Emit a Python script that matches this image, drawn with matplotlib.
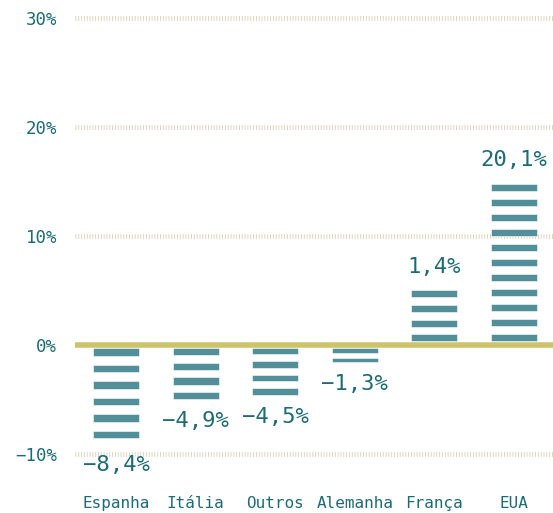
import matplotlib
matplotlib.use("Agg")
import matplotlib.pyplot as plt

# dados
paises = ["Espanha", "Itália", "Outros", "Alemanha", "França", "EUA"]
rotulos = ["−8,4%", "−4,9%", "−4,5%", "−1,3%", "1,4%", "20,1%"]
alturas = [-8.6, -5.0, -4.6, -1.6, 5.0, 14.8]   # altura visual das barras
faixas = [6, 4, 4, 2, 4, 11]                    # nº de listras por barra
yticks = [-10, 0, 10, 20, 30]
ytick_labels = ["−10%", "0%", "10%", "20%", "30%"]

cor_texto = "#1d6b75"
cor_barra = "#538f99"
cor_zero = "#cdc36a"
cor_grade = "#dccfb8"

plt.rcParams["font.family"] = ["DejaVu Sans Mono", "DejaVu Sans"]

fig = plt.figure(figsize=(5.53, 5.13), dpi=100)
ax = fig.add_axes([75 / 553, 1 - 475.5 / 513, 1 - 75 / 553, 468.5 / 513])

largura = 0.58
f = 0.48    # fração listra / período
borda = 0.3  # listras começam logo após a linha do zero
for i, (h, n) in enumerate(zip(alturas, faixas)):
    util = abs(h) - borda
    p = util / (n - 1 + f)
    s = p * f
    sinal = 1 if h > 0 else -1
    for k in range(n):
        base = sinal * (borda + k * p)
        ax.bar(i, sinal * s, bottom=base, width=largura, color=cor_barra,
               edgecolor="white", linewidth=0.4, zorder=2)

for i, (h, txt) in enumerate(zip(alturas, rotulos)):
    off = 17 if h > 0 else -16
    if i == 0:
        off = -19
    ax.annotate(txt, (i, h), xytext=(0, off), textcoords="offset points",
                ha="center", va="center", fontsize=16, color=cor_texto)

for y in yticks:
    if y != 0:
        ax.axhline(y, color=cor_grade, lw=3.5, ls=(0, (0.18, 0.4)), zorder=1)
ax.axhline(0, color=cor_zero, lw=4, zorder=3)

ax.set_xlim(-0.515, 5.49)
ax.set_ylim(-12, 31)
ax.set_yticks(yticks)
ax.set_yticklabels(ytick_labels)
ax.set_xticks(range(len(paises)))
ax.set_xticklabels(paises)
ax.tick_params(axis="y", length=0, pad=13, labelsize=12.5, labelcolor=cor_texto)
ax.tick_params(axis="x", length=0, pad=15, labelsize=11.5, labelcolor=cor_texto)
for sp in ax.spines.values():
    sp.set_visible(False)

fig.savefig("out.png", dpi=100)
